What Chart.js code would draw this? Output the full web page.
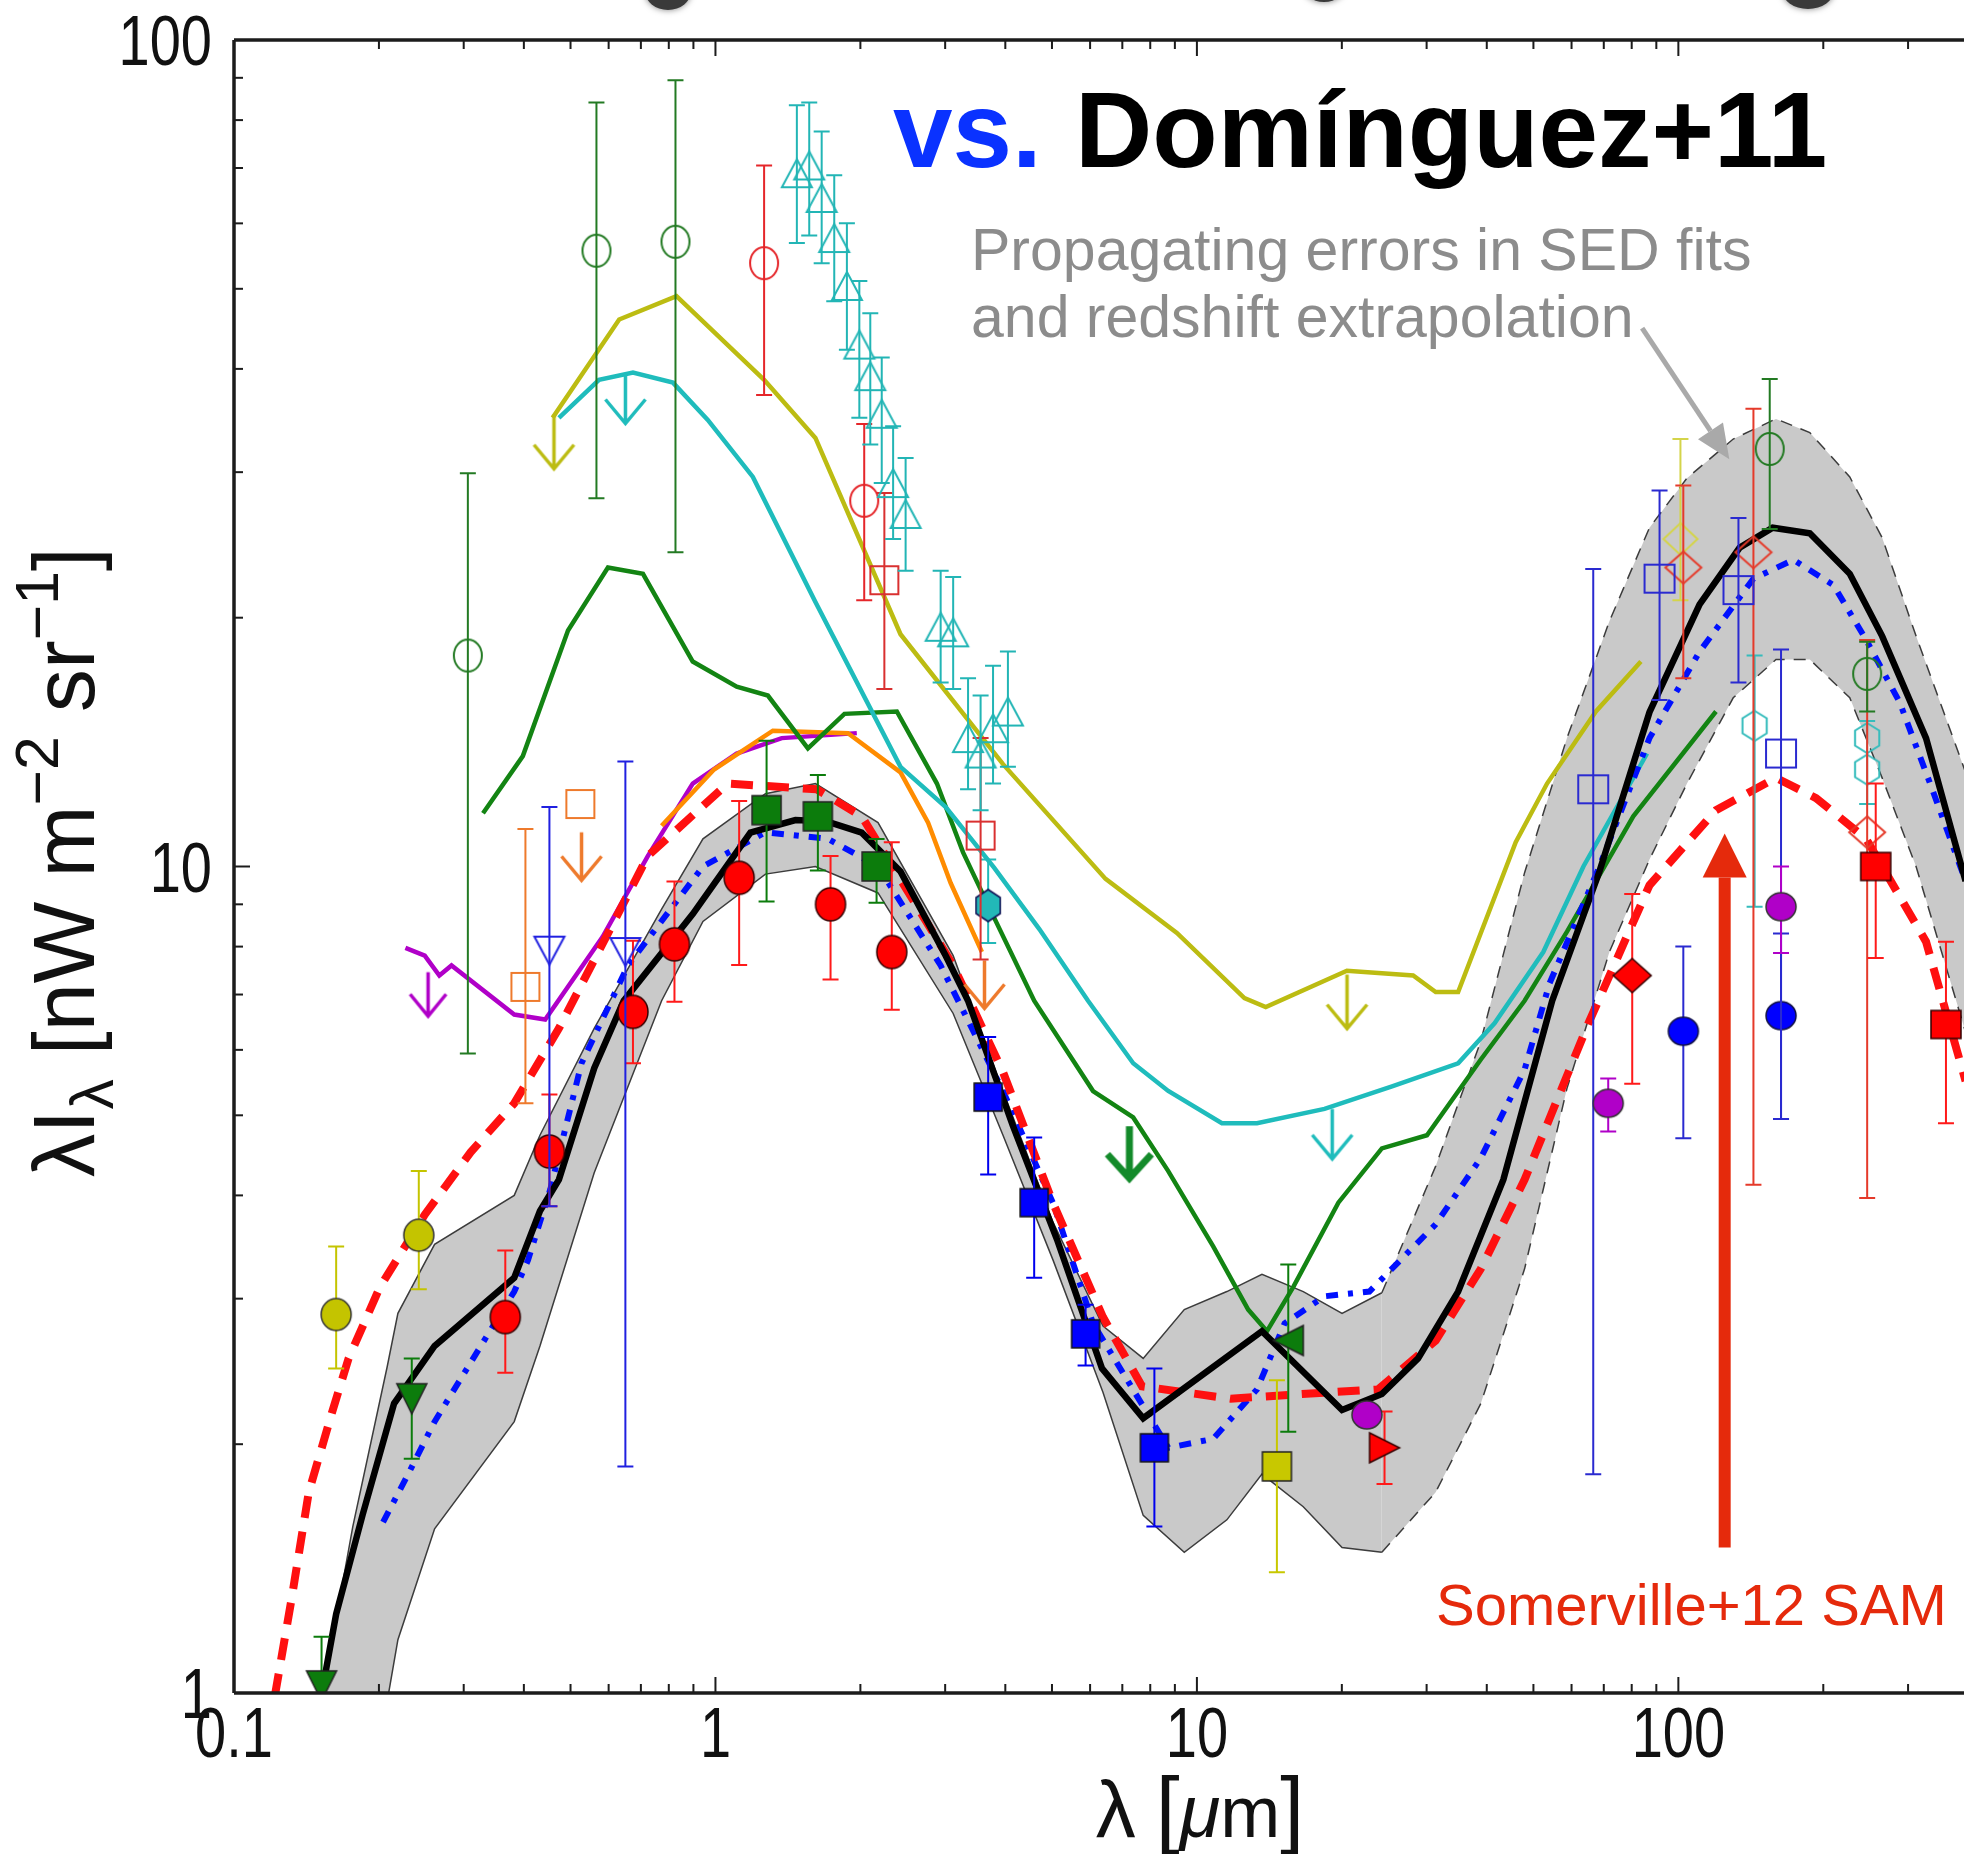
<!DOCTYPE html>
<html>
<head>
<meta charset="utf-8">
<title>EBL spectrum</title>
<script src="https://cdn.jsdelivr.net/npm/chart.js"></script>
<style>
  html, body { margin: 0; padding: 0; background: #fff; }
  #wrap { width: 1964px; height: 1854px; }
</style>
</head>
<body>
<div id="wrap"><canvas id="eblChart" width="1964" height="1854"></canvas></div>
<script>
// Wavelength in micron, intensity in nW m^-2 sr^-1

// Axis ticks
const xTickValues = [0.1, 1, 10, 100];
const xTickLabels = ['0.1', '1', '10', '100'];
const yTickValues = [1, 10, 100];
const yTickLabels = ['1', '10', '100'];

// Dominguez+11 model and its uncertainty band
const domX = [0.145, 0.151, 0.163, 0.185, 0.215, 0.261, 0.382, 0.432, 0.473, 0.560, 0.645, 0.897, 1.182, 1.466, 1.703, 2.013, 2.423, 3.008, 3.347, 4.15, 5.12, 6.35, 7.735, 13.65, 20.02, 24.22, 28.8, 34.88, 43.3, 54.7, 68.56, 87.1, 110.7, 134, 157, 187.5, 227, 265, 326.9, 395];
const domY = [0.9, 0.976, 1.246, 1.643, 2.24, 2.63, 3.18, 3.83, 4.18, 5.70, 6.88, 8.76, 10.99, 11.38, 11.34, 10.99, 9.86, 7.80, 6.88, 4.85, 3.54, 2.47, 2.15, 2.74, 2.20, 2.30, 2.54, 3.06, 4.18, 6.88, 9.86, 15.37, 20.76, 24.3, 25.7, 25.3, 22.6, 19.0, 14.3, 9.6];

const bandX = [0.148, 0.1765, 0.208, 0.219, 0.261, 0.382, 0.432, 0.560, 0.773, 0.942, 1.27, 1.613, 2.176, 3.117, 3.956, 5.026, 6.383, 7.735, 9.414, 11.54, 13.65, 16.63, 20.02, 24.22, 31.33, 38.88, 47.93, 58.7, 71.9, 87.1, 104.2, 130, 159.5, 187.5, 227, 265, 311.7, 395];
const bandHi = [0.9, 1.59, 2.48, 2.88, 3.49, 4.00, 4.73, 6.37, 8.88, 10.8, 12.25, 12.6, 11.3, 7.80, 5.35, 3.71, 2.78, 2.54, 2.91, 3.06, 3.21, 3.06, 2.88, 3.05, 4.34, 6.15, 9.83, 14.3, 19.8, 25.7, 29.5, 32.9, 34.8, 33.5, 29.6, 25.0, 19.0, 13.0];
const bandLo = [0.5, 0.6, 0.976, 1.16, 1.58, 2.13, 2.63, 4.26, 6.88, 8.58, 9.79, 10.0, 9.29, 6.64, 4.73, 3.34, 2.31, 1.64, 1.48, 1.62, 1.84, 1.68, 1.50, 1.48, 1.75, 2.24, 3.26, 5.39, 7.88, 10.2, 12.6, 16.0, 17.8, 17.8, 16.0, 12.8, 10.0, 6.3];

// Somerville+12 SAM
const somX = [0.118, 0.121, 0.132, 0.143, 0.160, 0.173, 0.201, 0.249, 0.310, 0.382, 0.473, 0.724, 1.06, 1.623, 2.013, 3.117, 3.956, 5.03, 6.38, 7.69, 11.75, 16.53, 23.8, 31.33, 38.88, 47.93, 65.03, 87.1, 119.7, 159.5, 193.2, 245.5, 326.9, 395];
const somY = [0.9, 0.976, 1.31, 1.75, 2.19, 2.54, 3.10, 3.79, 4.51, 5.17, 6.37, 10.3, 12.6, 12.4, 11.5, 7.59, 5.64, 3.91, 2.85, 2.35, 2.27, 2.30, 2.33, 2.67, 3.26, 4.18, 6.46, 9.49, 11.7, 12.8, 12.1, 10.8, 8.11, 5.5];

// dash-dot model
const dotX = [0.204, 0.230, 0.261, 0.323, 0.382, 0.408, 0.454, 0.527, 0.658, 0.942, 1.27, 1.713, 2.176, 2.936, 3.956, 5.03, 6.085, 8.719, 10.81, 13.33, 15.21, 18.41, 22.82, 31.33, 38.88, 47.93, 54.0, 68.56, 87.1, 110.7, 143.2, 173.4, 210, 245.5, 288.2, 336.8, 395];
const dotY = [1.61, 1.84, 2.13, 2.61, 3.06, 3.34, 4.07, 5.78, 7.59, 10.0, 11.0, 10.8, 10.0, 7.59, 5.35, 3.91, 2.80, 1.98, 2.03, 2.33, 2.80, 3.02, 3.06, 3.69, 4.44, 5.68, 7.22, 10.0, 14.3, 18.2, 22.3, 23.5, 21.9, 18.8, 15.8, 12.4, 9.6];

// upper-limit and lower-limit curves
const yelX = [0.459, 0.631, 0.830, 1.262, 1.613, 2.423, 3.956, 6.461, 9.087, 12.55, 13.9, 20.49, 28.13, 31.33, 34.88, 45.94, 53.37, 67.41, 83.6];
const yelY = [34.9, 45.9, 49.0, 38.8, 33.0, 19.1, 13.3, 9.66, 8.31, 6.93, 6.76, 7.48, 7.38, 7.05, 7.05, 10.7, 12.6, 15.4, 17.7];
const cyaX = [0.473, 0.573, 0.674, 0.816, 0.964, 1.196, 1.613, 2.423, 3.008, 3.794, 4.706, 5.941, 7.374, 8.719, 11.27, 13.33, 18.41, 25.43, 34.88, 41.51, 52.41, 63.5, 86.1];
const cyaY = [34.9, 38.8, 39.6, 38.5, 34.7, 29.6, 20.9, 13.2, 11.8, 9.96, 8.40, 6.88, 5.78, 5.35, 4.89, 4.89, 5.09, 5.42, 5.78, 6.46, 7.88, 10.0, 13.7];
const grnX = [0.329, 0.398, 0.494, 0.598, 0.707, 0.897, 1.107, 1.285, 1.556, 1.853, 2.381, 2.884, 3.268, 3.728, 4.592, 6.085, 7.374, 8.719, 10.81, 12.78, 13.98, 15.86, 19.67, 24.22, 30.05, 38.88, 47.93, 58.71, 80.6, 119.7];
const grnY = [11.6, 13.6, 19.3, 23.0, 22.6, 17.7, 16.5, 16.1, 13.9, 15.3, 15.4, 12.6, 10.4, 8.85, 6.88, 5.35, 4.97, 4.28, 3.47, 2.91, 2.74, 3.10, 3.92, 4.56, 4.73, 5.84, 6.88, 8.34, 11.5, 15.4];
const orgX = [0.773, 0.993, 1.316, 1.885, 2.423, 2.765, 3.08, 3.576];
const orgY = [11.2, 13.1, 14.6, 14.5, 13.0, 11.3, 9.55, 7.88];
const magX = [0.227, 0.249, 0.267, 0.283, 0.382, 0.443, 0.583, 0.724, 0.897, 1.107, 1.373, 1.966];
const magY = [7.97, 7.80, 7.38, 7.59, 6.62, 6.53, 8.22, 10.3, 12.6, 13.7, 14.3, 14.5];

// Measurements: centre, lower and upper end of the error bar
const triX = [1.476, 1.566, 1.662, 1.765, 1.875, 1.990, 2.097, 2.215, 2.339, 2.483, 2.936, 3.117, 3.347, 3.554, 3.772, 4.05];
const triY = [69.0, 70.5, 64.4, 57.6, 50.4, 42.8, 39.2, 35.3, 29.1, 26.7, 19.5, 19.2, 14.3, 13.7, 14.7, 15.4];
const triLo = [56.8, 58.0, 53.7, 48.3, 42.2, 34.9, 32.4, 29.1, 24.9, 22.8, 16.7, 16.4, 12.4, 11.7, 12.6, 13.2];
const triHi = [83.4, 84.0, 77.5, 68.6, 60.0, 51.1, 46.7, 41.3, 34.1, 31.2, 22.8, 22.4, 16.9, 16.1, 17.5, 18.2];

const gCircX = [0.306, 0.566, 0.826, 154.8, 246.7];
const gCircY = [18.0, 55.6, 57.0, 32.0, 17.1];
const gCircLo = [5.94, 27.9, 24.0, 25.6, 15.4];
const gCircHi = [29.9, 84.0, 89.4, 38.9, 18.7];

const rCircX = [1.262, 2.037];
const rCircY = [53.7, 27.7];
const rCircLo = [37.2, 21.0];
const rCircHi = [70.5, 34.3];

const rSqOpenX = [2.243, 3.554];
const rSqOpenY = [22.2, 10.9];
const rSqOpenLo = [16.4, 7.72];
const rSqOpenHi = [28.3, 14.3];

const oSqX = [0.403, 0.524];
const oSqY = [7.15, 11.9];
const oSqLo = [5.17, null];
const oSqHi = [11.1, null];

const bTriX = [0.452, 0.650];
const bTriY = [7.91, 7.88];
const bTriLo = [3.88, 1.88];
const bTriHi = [11.8, 13.4];

const yDotX = [0.163, 0.242];
const yDotY = [2.87, 3.58];
const yDotLo = [2.47, 3.08];
const yDotHi = [3.47, 4.28];

const gTriX = [0.152, 0.234];
const gTriY = [1.02, 2.27];
const gTriLo = [0.9, 1.92];
const gTriHi = [1.17, 2.54];

const rDotX = [0.366, 0.452, 0.674, 0.822, 1.12, 1.734, 2.324];
const rDotY = [2.85, 4.52, 6.67, 8.05, 9.69, 9.00, 7.88];
const rDotLo = [2.44, 3.88, 5.78, 6.86, 7.6, 7.3, 6.71];
const rDotHi = [3.43, 5.30, 8.13, 9.59, 12.0, 10.3, 10.7];

const gSqX = [1.277, 1.632, 2.161];
const gSqY = [11.7, 11.5, 10.0];
const gSqLo = [9.07, 9.89, 9.04];
const gSqHi = [14.2, 12.9, 10.8];

const bSqX = [3.685, 4.592, 5.872, 8.16];
const bSqY = [5.26, 3.92, 2.72, 1.98];
const bSqLo = [4.24, 3.18, 2.49, 1.59];
const bSqHi = [6.22, 4.70, 2.95, 2.47];

const cHexX = [3.685];
const cHexY = [8.97];
const cHexLo = [8.08];
const cHexHi = [10.2];

const ySqX = [14.66];
const ySqY = [1.88];
const ySqLo = [1.40];
const ySqHi = [2.39];

const gLeftX = [15.48];
const gLeftY = [2.67];
const gLeftLo = [2.07];
const gLeftHi = [3.30];

const mDotX = [22.55, 71.5, 163.4];
const mDotY = [2.17, 5.17, 8.94];
const mDotLo = [null, 4.78, 7.86];
const mDotHi = [null, 5.54, 10.0];

const rRightX = [24.53];
const rRightY = [1.98];
const rRightLo = [1.79];
const rRightHi = [2.19];

const bSqOpenX = [66.56, 91.4, 133.3, 163.4];
const bSqOpenY = [12.4, 22.3, 21.6, 13.7];
const bSqOpenLo = [1.84, 15.9, 16.7, 4.95];
const bSqOpenHi = [22.9, 28.5, 26.4, 18.3];

const bDotX = [102.4, 163.4];
const bDotY = [6.32, 6.60];
const bDotLo = [4.69, 4.95];
const bDotHi = [8.0, 8.3];

const rDiaX = [80.2];
const rDiaY = [7.38];
const rDiaLo = [5.46];
const rDiaHi = [9.26];

const rSqX = [257, 359.6];
const rSqY = [10.0, 6.44];
const rSqLo = [7.75, 4.89];
const rSqHi = [12.6, 8.11];

const rDiaOpenX = [102.4, 143.2, 246.7];
const rDiaOpenY = [23.0, 24.0, 11.0];
const rDiaOpenLo = [16.9, 4.12, 3.97];
const rDiaOpenHi = [28.9, 35.8, 18.8];

const yDiaOpenX = [101];
const yDiaOpenY = [24.9];
const yDiaOpenLo = [21.0];
const yDiaOpenHi = [32.9];

const cHexOpenX = [144, 246.7, 246.7];
const cHexOpenY = [14.8, 14.3, 13.1];
const cHexOpenLo = [8.94, null, 11.9];
const cHexOpenHi = [18.0, null, 15.0];

// Upper limits (arrow starts at the value and points down)
const limYelX = [0.462, 20.5];
const limYelY = [35.2, 7.4];
const limCyaX = [0.650, 19.1];
const limCyaY = [39.5, 5.09];
const limMagX = [0.253];
const limMagY = [7.45];
const limOrgX = [0.527, 3.62];
const limOrgY = [11.0, 7.7];
const limGrnX = [7.24];
const limGrnY = [4.85];

// Annotation anchors
const sedArrowFrom = { x: 84.1, y: 44.8 };
const sedArrowTo = { x: 127.6, y: 31.1 };
const samArrowFrom = { x: 124.8, y: 1.5 };
const samArrowTo = { x: 124.8, y: 10.96 };

const FONT = '"Liberation Sans", Arial, sans-serif';
const SQUEEZE = 0.8;

document.addEventListener('DOMContentLoaded', function() {
    drawChart();
});

function pts(xs, ys) {
    return xs.map((x, i) => ({ x: x, y: ys[i] }));
}

// Marker images, so circles can be slightly oval and hexagons are available
function marker(shape, w, h, fill, stroke, lw) {
    const pad = Math.ceil(lw) + 2;
    const c = document.createElement('canvas');
    c.width = w + pad * 2;
    c.height = h + pad * 2;
    const g = c.getContext('2d');
    g.translate(c.width / 2, c.height / 2);
    const rx = w / 2, ry = h / 2;
    g.beginPath();
    if (shape === 'circle') {
        g.ellipse(0, 0, rx, ry, 0, 0, Math.PI * 2);
    } else if (shape === 'square') {
        g.rect(-rx, -ry, w, h);
    } else if (shape === 'diamond') {
        g.moveTo(0, -ry); g.lineTo(rx, 0); g.lineTo(0, ry); g.lineTo(-rx, 0); g.closePath();
    } else if (shape === 'up') {
        g.moveTo(0, -ry); g.lineTo(rx, ry); g.lineTo(-rx, ry); g.closePath();
    } else if (shape === 'down') {
        g.moveTo(-rx, -ry); g.lineTo(rx, -ry); g.lineTo(0, ry); g.closePath();
    } else if (shape === 'left') {
        g.moveTo(rx, -ry); g.lineTo(rx, ry); g.lineTo(-rx, 0); g.closePath();
    } else if (shape === 'right') {
        g.moveTo(-rx, -ry); g.lineTo(-rx, ry); g.lineTo(rx, 0); g.closePath();
    } else if (shape === 'hex') {
        for (let i = 0; i < 6; i++) {
            const a = -Math.PI / 2 + i * Math.PI / 3;
            const px = Math.cos(a) * rx, py = Math.sin(a) * ry;
            if (i === 0) g.moveTo(px, py); else g.lineTo(px, py);
        }
        g.closePath();
    }
    if (fill) { g.fillStyle = fill; g.fill(); }
    if (stroke) { g.lineWidth = lw; g.strokeStyle = stroke; g.stroke(); }
    return c;
}

// Down arrow drawn from the centre of the image, used for upper limits
function limitArrow(color, len, lw, hw, hl) {
    const c = document.createElement('canvas');
    c.width = hw * 2 + lw * 2 + 4;
    c.height = (len + lw + 2) * 2;
    const g = c.getContext('2d');
    g.translate(c.width / 2, c.height / 2);
    g.strokeStyle = color;
    g.lineWidth = lw;
    g.beginPath();
    g.moveTo(0, 0); g.lineTo(0, len);
    g.moveTo(-hw, len - hl); g.lineTo(0, len); g.lineTo(hw, len - hl);
    g.stroke();
    return c;
}

function lineSet(xs, ys, color, width, order, extra) {
    return Object.assign({
        type: 'line',
        data: pts(xs, ys),
        borderColor: color,
        borderWidth: width,
        pointRadius: 0,
        fill: false,
        tension: 0,
        order: order
    }, extra || {});
}

function markerSet(xs, ys, lo, hi, style, barColor) {
    return {
        type: 'scatter',
        data: pts(xs, ys),
        pointStyle: style,
        pointRadius: 12,
        errLo: lo,
        errHi: hi,
        errColor: barColor,
        order: 1
    };
}

function limitSet(xs, ys, style) {
    return { type: 'scatter', data: pts(xs, ys), pointStyle: style, pointRadius: 12, order: 1 };
}

// Vertical error bars with caps, drawn just under each marker set
const errorBars = {
    id: 'errorBars',
    beforeDatasetDraw(chart, args) {
        const ds = chart.data.datasets[args.index];
        if (!ds.errLo) return;
        const { ctx, chartArea: a, scales: { x, y } } = chart;
        ctx.save();
        ctx.beginPath();
        ctx.rect(a.left, a.top, a.right - a.left, a.bottom - a.top);
        ctx.clip();
        ctx.strokeStyle = ds.errColor;
        ctx.lineWidth = 2;
        ds.data.forEach((p, i) => {
            if (ds.errLo[i] == null) return;
            const px = x.getPixelForValue(p.x);
            const y0 = y.getPixelForValue(ds.errLo[i]);
            const y1 = y.getPixelForValue(ds.errHi[i]);
            ctx.beginPath();
            ctx.moveTo(px, y0); ctx.lineTo(px, y1);
            ctx.moveTo(px - 8, y0); ctx.lineTo(px + 8, y0);
            ctx.moveTo(px - 8, y1); ctx.lineTo(px + 8, y1);
            ctx.stroke();
        });
        ctx.restore();
    }
};

function logTicks(min, max) {
    const out = [];
    for (let e = Math.floor(Math.log10(min)); e <= Math.ceil(Math.log10(max)); e++) {
        for (let k = 1; k <= 9; k++) {
            const v = k * Math.pow(10, e);
            if (v >= min * 0.999 && v <= max * 1.001) out.push({ v: v, major: k === 1 });
        }
    }
    return out;
}

function squeezedText(ctx, str, x, y, align) {
    ctx.save();
    ctx.translate(x, y);
    ctx.scale(SQUEEZE, 1);
    ctx.textAlign = align;
    ctx.fillText(str, 0, 0);
    ctx.restore();
}

// Frame, inward ticks and tick labels
const frame = {
    id: 'frame',
    afterDatasetsDraw(chart) {
        const { ctx, chartArea: a, scales: { x, y } } = chart;
        ctx.save();
        ctx.strokeStyle = '#1c1c1c';
        ctx.lineWidth = 3.5;
        ctx.beginPath();
        ctx.moveTo(a.left, a.top); ctx.lineTo(a.right, a.top);
        ctx.moveTo(a.left, a.top); ctx.lineTo(a.left, a.bottom);
        ctx.moveTo(a.left, a.bottom); ctx.lineTo(a.right, a.bottom);
        ctx.stroke();

        ctx.lineWidth = 2;
        logTicks(x.min, x.max).forEach(t => {
            const px = x.getPixelForValue(t.v);
            const len = t.major ? 16 : 9;
            ctx.beginPath();
            ctx.moveTo(px, a.bottom); ctx.lineTo(px, a.bottom - len);
            ctx.moveTo(px, a.top); ctx.lineTo(px, a.top + len);
            ctx.stroke();
        });
        logTicks(y.min, y.max).forEach(t => {
            const py = y.getPixelForValue(t.v);
            const len = t.major ? 16 : 9;
            ctx.beginPath();
            ctx.moveTo(a.left, py); ctx.lineTo(a.left + len, py);
            ctx.stroke();
        });

        ctx.fillStyle = '#111';
        ctx.font = '70px ' + FONT;
        ctx.textBaseline = 'alphabetic';
        xTickValues.forEach((v, i) => {
            squeezedText(ctx, xTickLabels[i], x.getPixelForValue(v), a.bottom + 64, 'center');
        });
        yTickValues.forEach((v, i) => {
            squeezedText(ctx, yTickLabels[i], a.left - 22, y.getPixelForValue(v) + 25, 'right');
        });
        ctx.restore();
    }
};

// Text made of pieces with their own size, slant and vertical shift
function partFont(p) {
    return (p.italic ? 'italic ' : '') + p.size.toFixed(1) + 'px ' + FONT;
}

function richWidth(ctx, parts) {
    let w = 0;
    parts.forEach(p => { ctx.font = partFont(p); w += ctx.measureText(p.t).width; });
    return w;
}

function drawRich(ctx, parts, x0) {
    let x = x0;
    parts.forEach(p => {
        ctx.font = partFont(p);
        ctx.fillText(p.t, x, p.dy || 0);
        x += ctx.measureText(p.t).width;
    });
}

function axisTitleParts(base) {
    const s = base * 0.7;
    return [
        { t: 'λI', size: base }, { t: 'λ', size: s, dy: base * 0.22 }, { t: ' [nW m', size: base },
        { t: '−2', size: s, dy: -base * 0.42 }, { t: ' sr', size: base },
        { t: '−1', size: s, dy: -base * 0.42 }, { t: ']', size: base }
    ];
}

function arrow(ctx, x0, y0, x1, y1, shaft, headLen, headHalf, color) {
    const ang = Math.atan2(y1 - y0, x1 - x0);
    const bx = x1 - Math.cos(ang) * headLen, by = y1 - Math.sin(ang) * headLen;
    ctx.strokeStyle = color;
    ctx.fillStyle = color;
    ctx.lineWidth = shaft;
    ctx.beginPath();
    ctx.moveTo(x0, y0); ctx.lineTo(bx, by);
    ctx.stroke();
    ctx.beginPath();
    ctx.moveTo(x1, y1);
    ctx.lineTo(bx - Math.sin(ang) * headHalf, by + Math.cos(ang) * headHalf);
    ctx.lineTo(bx + Math.sin(ang) * headHalf, by - Math.cos(ang) * headHalf);
    ctx.closePath();
    ctx.fill();
}

// Axis titles, heading and call-outs
const labels = {
    id: 'labels',
    afterDraw(chart) {
        const { ctx, scales: { x, y } } = chart;
        ctx.save();

        // pieces of the slide heading cut by the top edge
        ctx.fillStyle = '#3a3a3a';
        ctx.shadowColor = 'rgba(0,0,0,0.5)';
        ctx.shadowBlur = 6;
        [[668, -9, 23, 19], [1324, -15, 22, 17], [1808, -10, 26, 19]].forEach(b => {
            ctx.beginPath();
            ctx.ellipse(b[0], b[1], b[2], b[3], 0, 0, Math.PI * 2);
            ctx.fill();
        });
        ctx.shadowBlur = 0;

        // x axis title
        ctx.fillStyle = '#111';
        ctx.textBaseline = 'alphabetic';
        const xParts = [
            { t: 'λ', size: 80 }, { t: ' ', size: 72 }, { t: '[', size: 86 },
            { t: 'μ', size: 74, italic: true }, { t: 'm', size: 72 }, { t: ']', size: 86 }
        ];
        ctx.save();
        ctx.translate(0, 1837);
        drawRich(ctx, xParts, 1200 - richWidth(ctx, xParts) / 2);
        ctx.restore();

        // y axis title, read bottom to top
        const probe = axisTitleParts(100);
        const yParts = axisTitleParts(100 * 630 / richWidth(ctx, probe));
        ctx.save();
        ctx.translate(94, 862);
        ctx.rotate(-Math.PI / 2);
        drawRich(ctx, yParts, -richWidth(ctx, yParts) / 2);
        ctx.restore();

        // heading
        ctx.font = 'bold 107px ' + FONT;
        ctx.textAlign = 'left';
        ctx.fillStyle = '#0a32ff';
        ctx.fillText('vs.', 893, 167);
        ctx.fillStyle = '#000';
        ctx.fillText('Domínguez+11', 1075, 167);

        // band note with its pointer
        ctx.font = '59px ' + FONT;
        ctx.fillStyle = '#8c8c8c';
        ctx.fillText('Propagating errors in SED fits', 971, 270);
        ctx.fillText('and redshift extrapolation', 971, 337);
        arrow(ctx,
            x.getPixelForValue(sedArrowFrom.x), y.getPixelForValue(sedArrowFrom.y),
            x.getPixelForValue(sedArrowTo.x), y.getPixelForValue(sedArrowTo.y),
            5, 34, 15, '#a9a9a9');

        // SAM call-out
        arrow(ctx,
            x.getPixelForValue(samArrowFrom.x), y.getPixelForValue(samArrowFrom.y),
            x.getPixelForValue(samArrowTo.x), y.getPixelForValue(samArrowTo.y),
            12, 44, 22, '#e52a0c');
        ctx.font = '58px ' + FONT;
        ctx.fillStyle = '#e52a0c';
        ctx.fillText('Somerville+12 SAM', 1436, 1625);

        ctx.restore();
    }
};

function drawChart() {
    const grayEdge = '#3c3c3c';
    const bandDash = ctx => ctx.p0.parsed.x >= 24 ? [12, 9] : undefined;

    const datasets = [
        // uncertainty band of the Dominguez+11 model
        lineSet(bandX, bandHi, grayEdge, 1.5, 30, {
            fill: '+1', backgroundColor: '#c9c9c9', segment: { borderDash: bandDash }
        }),
        lineSet(bandX, bandLo, grayEdge, 1.5, 29, { segment: { borderDash: bandDash } }),

        // other model curves
        lineSet(yelX, yelY, '#bcbc12', 4.5, 20),
        lineSet(cyaX, cyaY, '#1fbcbc', 4.5, 20),
        lineSet(grnX, grnY, '#138413', 4.5, 20),
        lineSet(orgX, orgY, '#ff8c00', 4.5, 20),
        lineSet(magX, magY, '#b000c8', 4.5, 20),
        lineSet(dotX, dotY, '#0010ff', 6, 12, { borderDash: [12, 10, 5, 10] }),
        lineSet(somX, somY, '#ff1010', 8, 11, { borderDash: [22, 14] }),
        lineSet(domX, domY, '#000000', 6.5, 10),

        // data points
        markerSet(triX, triY, triLo, triHi, marker('up', 30, 28, null, '#22b5b5', 2), '#22b5b5'),
        markerSet(gCircX, gCircY, gCircLo, gCircHi, marker('circle', 28, 32, null, '#237a23', 2), '#237a23'),
        markerSet(rCircX, rCircY, rCircLo, rCircHi, marker('circle', 28, 32, null, '#e5262a', 2), '#e5262a'),
        markerSet(rSqOpenX, rSqOpenY, rSqOpenLo, rSqOpenHi, marker('square', 28, 28, null, '#d93030', 2), '#d93030'),
        markerSet(oSqX, oSqY, oSqLo, oSqHi, marker('square', 28, 28, null, '#ee7a2c', 2), '#ee7a2c'),
        markerSet(bTriX, bTriY, bTriLo, bTriHi, marker('down', 30, 28, null, '#2020e0', 2), '#2020e0'),
        markerSet(yDotX, yDotY, yDotLo, yDotHi, marker('circle', 30, 32, '#c4c400', '#333', 1.5), '#c4c400'),
        markerSet(gTriX, gTriY, gTriLo, gTriHi, marker('down', 30, 30, '#0c7c0c', '#222', 1.5), '#0c7c0c'),
        markerSet(rDotX, rDotY, rDotLo, rDotHi, marker('circle', 30, 33, '#ff0000', '#300', 1.5), '#ff1a1a'),
        markerSet(gSqX, gSqY, gSqLo, gSqHi, marker('square', 29, 29, '#0c7c0c', '#222', 1.5), '#0c7c0c'),
        markerSet(bSqX, bSqY, bSqLo, bSqHi, marker('square', 28, 28, '#0000ff', '#111', 1.5), '#0000ee'),
        markerSet(cHexX, cHexY, cHexLo, cHexHi, marker('hex', 28, 32, '#22b8b8', '#115', 1.5), '#22b8b8'),
        markerSet(ySqX, ySqY, ySqLo, ySqHi, marker('square', 29, 29, '#c8c800', '#222', 1.5), '#c8c800'),
        markerSet(gLeftX, gLeftY, gLeftLo, gLeftHi, marker('left', 30, 30, '#0c7c0c', '#222', 1.5), '#0c7c0c'),
        markerSet(mDotX, mDotY, mDotLo, mDotHi, marker('circle', 30, 28, '#b000c8', '#333', 1.5), '#b000c8'),
        markerSet(rRightX, rRightY, rRightLo, rRightHi, marker('right', 30, 30, '#ff0000', '#300', 1.5), '#ff1a1a'),
        markerSet(bSqOpenX, bSqOpenY, bSqOpenLo, bSqOpenHi, marker('square', 30, 28, null, '#2a2ad0', 2), '#2a2ad0'),
        markerSet(bDotX, bDotY, bDotLo, bDotHi, marker('circle', 30, 28, '#0000ff', '#114', 1.5), '#2a2ad0'),
        markerSet(rDiaX, rDiaY, rDiaLo, rDiaHi, marker('diamond', 38, 34, '#ff0000', '#300', 1.5), '#ff1a1a'),
        markerSet(rSqX, rSqY, rSqLo, rSqHi, marker('square', 30, 28, '#ff0000', '#300', 1.5), '#ff1a1a'),
        markerSet(rDiaOpenX, rDiaOpenY, rDiaOpenLo, rDiaOpenHi, marker('diamond', 36, 32, null, '#e53a2a', 2), '#e53a2a'),
        markerSet(yDiaOpenX, yDiaOpenY, yDiaOpenLo, yDiaOpenHi, marker('diamond', 34, 32, null, '#d4d44a', 2), '#d4d44a'),
        markerSet(cHexOpenX, cHexOpenY, cHexOpenLo, cHexOpenHi, marker('hex', 28, 30, null, '#35bcbc', 2), '#35bcbc'),

        // upper limits
        limitSet(limYelX, limYelY, limitArrow('#bcbc12', 54, 3.5, 20, 24)),
        limitSet(limCyaX, limCyaY, limitArrow('#1fbcbc', 50, 3.5, 20, 24)),
        limitSet(limMagX, limMagY, limitArrow('#b000c8', 44, 3.5, 18, 22)),
        limitSet(limOrgX, limOrgY, limitArrow('#ee7a2c', 48, 3.5, 20, 24)),
        limitSet(limGrnX, limGrnY, limitArrow('#138a2a', 52, 7, 22, 24))
    ];

    const ctx = document.getElementById('eblChart').getContext('2d');
    new Chart(ctx, {
        type: 'scatter',
        data: { datasets: datasets },
        options: {
            responsive: false,
            animation: false,
            devicePixelRatio: 1,
            events: [],
            layout: { autoPadding: false, padding: { left: 234, top: 40, right: 0, bottom: 161 } },
            plugins: {
                legend: { display: false },
                tooltip: { enabled: false }
            },
            scales: {
                x: { type: 'logarithmic', min: 0.1, max: 392, display: false },
                y: { type: 'logarithmic', min: 1, max: 100, display: false }
            }
        },
        plugins: [errorBars, frame, labels]
    });
}
</script>
</body>
</html>
